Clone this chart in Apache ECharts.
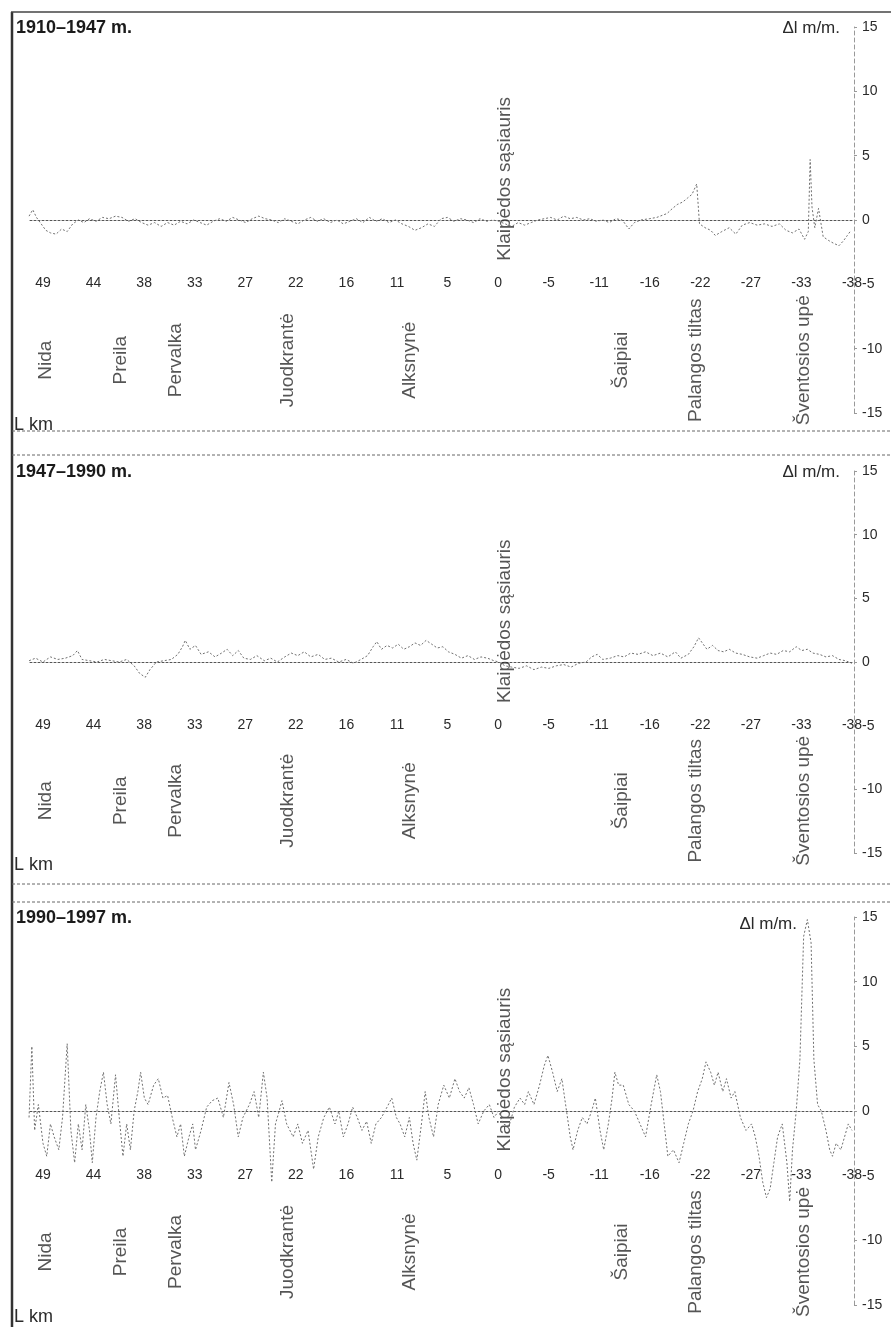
<!DOCTYPE html>
<html>
<head>
<meta charset="utf-8">
<script src="https://cdn.jsdelivr.net/npm/echarts@6/dist/echarts.min.js"></script>
<style>
  html, body { margin: 0; padding: 0; background: #fff; }
  #chart { width: 891px; height: 1327px; }
</style>
</head>
<body>
<div id="chart"></div>
<script>
// Coastline distance ticks (km from Klaipėda strait, north is negative)
const tickLabels = ['49', '44', '38', '33', '27', '22', '16', '11', '5', '0', '-5', '-11', '-16', '-22', '-27', '-33', '-38'];

// Place names along the coast and their km position
const placeNames = ['Nida', 'Preila', 'Pervalka', 'Juodkrantė', 'Alksnynė', 'Klaipėdos sąsiauris', 'Šaipiai', 'Palangos tiltas', 'Šventosios upė'];
const placeKm = [48.7, 40.6, 34.7, 22.7, 9.6, -0.7, -13.2, -21.2, -32.8];

const periods = ['1910–1947 m.', '1947–1990 m.', '1990–1997 m.'];

// 1910–1947: mean annual shoreline change, m/yr
const km1 = [50.5, 50.1, 49.7, 49.2, 48.7, 48.2, 47.6, 47.0, 46.4, 45.8, 45.2, 44.6, 44.0, 43.3, 42.6, 41.9, 41.2, 40.5, 39.8, 39.1,
  38.4, 37.7, 37.0, 36.3, 35.6, 34.9, 34.2, 33.5, 32.8, 32.1, 31.4, 30.7, 30.0, 29.3, 28.6, 27.9, 27.2, 26.5, 25.8, 25.1,
  24.4, 23.7, 23.0, 22.3, 21.6, 20.9, 20.2, 19.5, 18.8, 18.1, 17.4, 16.7, 16.0, 15.3, 14.6, 13.9, 13.2, 12.5, 11.8, 11.1,
  10.4, 9.7, 9.0, 8.3, 7.6, 6.9, 6.2, 5.5, 4.8, 4.1, 3.4, 2.7, 2.0, 1.3, 0.6, 0.0, -0.7, -1.4, -2.1, -2.8,
  -3.5, -4.2, -4.9, -5.6, -6.3, -7.0, -7.7, -8.4, -9.1, -9.8, -10.5, -11.2, -11.9, -12.6, -13.3, -14.0, -14.6, -15.3, -16.2, -17.0,
  -18.1, -18.7, -19.2, -19.8, -20.3, -20.8, -21.3, -21.6, -22.2, -22.8, -23.3, -24.0, -24.8, -25.5, -26.2, -27.0, -27.8, -28.6, -29.4, -30.2,
  -30.9, -31.6, -32.3, -32.9, -33.3, -33.5, -33.7, -34.0, -34.4, -34.9, -35.5, -36.0, -36.6, -37.1, -37.5, -37.9];
const dl1 = [0.3, 0.8, 0.2, -0.3, -0.8, -1.0, -1.1, -0.7, -0.9, -0.3, 0.0, -0.2, 0.1, -0.1, 0.2, 0.1, 0.3, 0.2, -0.1, 0.1,
  -0.2, -0.4, -0.2, -0.5, -0.2, -0.4, -0.1, -0.3, 0.0, -0.2, -0.4, -0.1, 0.1, -0.1, 0.2, 0.0, -0.2, 0.1, 0.3, 0.1,
  0.0, -0.2, 0.1, -0.1, -0.3, 0.0, 0.2, -0.1, 0.1, -0.2, 0.0, -0.3, -0.1, 0.1, -0.2, 0.2, -0.1, 0.1, -0.2, 0.0,
  -0.3, -0.5, -0.8, -0.6, -0.3, -0.5, 0.1, 0.2, -0.1, 0.1, 0.0, -0.2, 0.1, -0.1, 0.0, -0.1, -0.3, -0.5, -0.2, -0.4,
  -0.2, 0.0, 0.1, 0.2, 0.0, 0.3, 0.1, 0.2, 0.0, 0.1, -0.1, 0.0, -0.2, 0.1, 0.0, -0.7, -0.2, 0.0, 0.1, 0.2,
  0.5, 0.9, 1.2, 1.4, 1.7, 2.0, 2.8, -0.3, -0.6, -0.8, -1.2, -0.9, -0.6, -1.1, -0.4, -0.2, -0.4, -0.3, -0.5, -0.3,
  -0.8, -1.0, -0.7, -1.5, -0.9, 4.7, 1.0, -0.6, 0.9, -1.3, -1.6, -1.8, -2.0, -1.6, -1.2, -0.8];

// 1947–1990
const km2 = [50.5, 49.8, 49.0, 48.2, 47.4, 46.6, 45.8, 45.3, 44.8, 44.0, 43.2, 42.4, 41.6, 40.8, 40.0, 39.2, 38.6, 38.0, 37.5, 36.8,
  36.0, 35.2, 34.5, 34.0, 33.7, 33.2, 32.6, 32.0, 31.2, 30.5, 29.8, 29.2, 28.6, 28.0, 27.4, 26.7, 26.0, 25.2, 24.5, 23.8,
  23.0, 22.3, 21.6, 20.9, 20.2, 19.4, 18.7, 18.0, 17.2, 16.4, 15.6, 14.8, 14.1, 13.5, 13.1, 12.6, 12.0, 11.4, 10.8, 10.2,
  9.6, 9.0, 8.4, 7.8, 7.2, 6.6, 6.0, 5.4, 4.7, 4.0, 3.3, 2.6, 1.9, 1.2, 0.5, 0.0, -0.7, -1.4, -2.2, -3.0,
  -3.8, -4.6, -5.4, -6.2, -7.0, -7.8, -8.6, -9.4, -10.0, -10.6, -11.2, -12.0, -12.8, -13.5, -14.2, -15.0, -15.8, -16.6, -17.4, -18.2,
  -19.0, -19.6, -20.4, -21.0, -21.5, -21.9, -22.4, -23.0, -23.6, -24.2, -24.8, -25.5, -26.2, -27.0, -27.8, -28.5, -29.2, -29.9, -30.6, -31.3,
  -32.0, -32.6, -33.2, -33.8, -34.5, -35.2, -35.9, -36.6, -37.3, -38.0];
const dl2 = [0.1, 0.3, 0.0, 0.4, 0.2, 0.3, 0.5, 0.9, 0.2, 0.1, 0.0, 0.2, 0.1, 0.0, 0.2, -0.3, -0.9, -1.2, -0.6, 0.0,
  0.1, 0.2, 0.6, 1.2, 1.7, 1.0, 1.3, 0.6, 0.8, 0.4, 0.7, 1.0, 0.5, 0.9, 0.3, 0.2, 0.5, 0.1, 0.3, 0.0,
  0.4, 0.7, 0.5, 0.8, 0.4, 0.6, 0.2, 0.3, 0.0, 0.2, -0.1, 0.2, 0.5, 1.2, 1.6, 1.0, 1.3, 1.1, 1.4, 1.0,
  1.2, 1.5, 1.3, 1.7, 1.4, 1.1, 1.2, 0.8, 0.6, 0.3, 0.5, 0.2, 0.4, 0.3, 0.1, 0.0, -0.3, -0.4, -0.5, -0.3,
  -0.6, -0.4, -0.5, -0.3, -0.2, -0.4, -0.1, 0.0, 0.4, 0.6, 0.2, 0.3, 0.5, 0.4, 0.7, 0.6, 0.8, 0.5, 0.7, 0.4,
  0.8, 0.3, 0.6, 1.2, 1.9, 1.5, 1.0, 1.3, 0.9, 0.8, 1.0, 0.7, 0.6, 0.4, 0.3, 0.5, 0.7, 0.6, 0.9, 0.8,
  1.2, 0.9, 1.0, 0.7, 0.6, 0.4, 0.5, 0.2, 0.1, -0.1];

// 1990–1997
const km3 = [50.5, 50.2, 49.9, 49.5, 49.0, 48.6, 48.2, 47.8, 47.3, 46.9, 46.4, 46.0, 45.6, 45.2, 44.8, 44.4, 44.0, 43.7, 43.3, 42.9,
  42.5, 42.1, 41.7, 41.2, 40.8, 40.4, 40.0, 39.6, 39.2, 38.8, 38.5, 38.1, 37.7, 37.1, 36.6, 36.1, 35.6, 35.1, 34.6, 34.2,
  33.8, 33.3, 32.9, 32.6, 32.0, 31.4, 30.8, 30.2, 29.6, 29.0, 28.5, 28.0, 27.5, 26.8, 26.3, 25.8, 25.3, 24.9, 24.4, 24.0,
  23.6, 23.3, 22.8, 22.1, 21.6, 21.1, 20.5, 19.9, 19.4, 18.8, 18.2, 17.6, 17.2, 16.7, 16.2, 15.7, 15.2, 14.7, 14.2, 13.7,
  13.2, 12.6, 12.0, 11.5, 11.0, 10.6, 10.1, 9.6, 9.2, 8.8, 8.3, 7.9, 7.5, 7.0, 6.5, 5.9, 5.3, 4.7, 4.2, 3.7,
  3.2, 2.7, 2.2, 1.6, 1.0, 0.5, 0.0, -0.5, -1.1, -1.7, -2.3, -2.8, -3.2, -3.8, -4.4, -4.9, -5.3, -5.8, -6.3, -6.8,
  -7.3, -7.7, -8.0, -8.5, -9.0, -9.5, -10.0, -10.4, -10.9, -11.3, -11.8, -12.2, -12.5, -12.9, -13.4, -14.0, -14.6, -15.2, -15.8, -16.4,
  -17.0, -17.4, -17.8, -18.2, -18.8, -19.4, -19.9, -20.4, -20.9, -21.4, -21.9, -22.3, -22.8, -23.2, -23.6, -24.1, -24.5, -25.0, -25.4, -26.0,
  -26.6, -27.2, -27.6, -28.0, -28.4, -28.8, -29.2, -29.6, -30.0, -30.5, -31.0, -31.3, -31.6, -32.0, -32.4, -32.8, -33.2, -33.6, -33.9, -34.3,
  -34.7, -35.2, -35.6, -35.9, -36.3, -36.8, -37.2, -37.6, -38.0];
const dl3 = [-0.5, 5.0, -1.5, 0.5, -2.5, -3.5, -1.0, -2.0, -3.0, -0.5, 5.2, -1.5, -4.0, -1.0, -3.0, 0.5, -1.5, -4.0, -0.5, 1.5,
  3.0, 0.5, -1.0, 2.8, -0.5, -3.5, -1.0, -3.0, 0.0, 1.5, 3.0, 1.0, 0.5, 2.0, 2.5, 1.0, 1.2, -0.5, -2.0, -1.0,
  -3.5, -2.0, -1.0, -3.0, -1.5, 0.3, 0.8, 1.0, -0.5, 2.2, 0.5, -2.0, -0.5, 0.5, 1.5, -0.5, 3.0, 1.0, -5.5, -1.0,
  0.0, 0.8, -1.0, -2.0, -1.0, -2.5, -1.5, -4.5, -2.0, -0.5, 0.3, -1.0, 0.0, -2.0, -1.0, 0.3, -0.5, -1.5, -0.8, -2.5,
  -1.0, -0.5, 0.3, 1.0, -0.5, -1.0, -2.0, -0.5, -2.5, -3.8, -1.0, 1.5, -0.5, -2.0, 0.5, 2.0, 1.0, 2.5, 1.5, 1.0,
  1.8, 0.5, -1.0, 0.0, 0.5, -0.5, 0.0, -1.0, -1.2, 0.3, 1.0, 0.5, 1.5, 0.5, 2.0, 3.5, 4.3, 3.0, 1.5, 2.5,
  0.0, -2.0, -3.0, -1.5, -0.5, -1.0, 0.0, 1.0, -1.5, -3.0, -1.0, 1.0, 3.0, 2.0, 2.0, 0.5, 0.0, -1.0, -2.0, 0.5,
  2.8, 1.5, -1.0, -3.5, -3.0, -4.0, -2.5, -1.0, 0.0, 1.5, 2.5, 3.8, 3.0, 2.0, 3.0, 1.5, 2.5, 1.0, 1.5, -0.5,
  -1.5, -1.0, -2.0, -3.5, -5.5, -6.7, -6.0, -4.0, -2.0, -1.0, -4.0, -7.0, -3.0, 0.0, 4.0, 13.5, 14.8, 13.0, 4.0, 0.5,
  0.0, -1.5, -3.0, -3.5, -2.5, -3.0, -2.0, -1.0, -1.5];

const kmSets = [km1, km2, km3];
const dlSets = [dl1, dl2, dl3];

// vertical level (m/yr) on which the place names are centred
const NAME_LEVEL = -10.9;
const STRAIT_LEVEL = 3.2;

const FONT = "'Liberation Sans', Arial, sans-serif";
const INK = '#2a2a2a';

// panel frames (pixels); tick labels run from km 49 (LEFT) to km -38 (LEFT+WIDTH)
const panels = [
  { top: 27, height: 386 },
  { top: 471, height: 382 },
  { top: 917, height: 388 }
];
const LEFT = 43, WIDTH = 809;
const KM_MIN = -38, KM_TICK_MAX = 49, KM_MAX = 50.5;   // the survey starts a little before km 49
const PX_PER_KM = WIDTH / (KM_TICK_MAX - KM_MIN);
const DATA_LEFT = LEFT - (KM_MAX - KM_TICK_MAX) * PX_PER_KM;
const DATA_WIDTH = WIDTH + (KM_MAX - KM_TICK_MAX) * PX_PER_KM;

const chart = echarts.init(document.getElementById('chart'), null, { renderer: 'canvas' });

const grid = [], xAxis = [], yAxis = [], series = [], graphic = [];

panels.forEach((p, i) => {
  // data grid (index i) and tick-label grid (index i + 3)
  grid.push({ left: DATA_LEFT, top: p.top, width: DATA_WIDTH, height: p.height });

  // km axis carrying the data and the dotted zero line
  xAxis.push({
    type: 'value', gridIndex: i, min: KM_MIN, max: KM_MAX, inverse: true,
    axisLine: { show: true, onZero: true, lineStyle: { color: '#555', width: 1, type: [2, 2] } },
    axisTick: { show: false }, axisLabel: { show: false }, splitLine: { show: false }
  });
  yAxis.push({
    type: 'value', gridIndex: i, position: 'right', min: -15, max: 15, interval: 5, offset: 2,
    axisLine: { show: true, onZero: false, lineStyle: { color: '#999', width: 1, type: [4, 3] } },
    axisTick: { show: true, length: 3, lineStyle: { color: '#999' } },
    splitLine: { show: false },
    axisLabel: { show: true, margin: 8, color: INK, fontFamily: FONT, fontSize: 14, align: 'left' }
  });

  series.push({
    type: 'line', xAxisIndex: i, yAxisIndex: i,
    data: kmSets[i].map((k, j) => [k, dlSets[i][j]]),
    showSymbol: false, smooth: false, silent: true,
    lineStyle: { color: '#707070', width: 1, type: [2, 2] }
  });

  series.push({
    type: 'scatter', xAxisIndex: i, yAxisIndex: i, symbolSize: 0, silent: true,
    data: placeNames.map((n, j) => ({ name: n, value: [placeKm[j], j === 5 ? STRAIT_LEVEL : NAME_LEVEL] })),
    label: {
      show: true, position: 'inside', rotate: 90, formatter: '{b}',
      color: INK, fontFamily: FONT, fontSize: 19, align: 'center', verticalAlign: 'middle'
    }
  });

  // period heading, axis names
  graphic.push({ type: 'text', left: 16, top: p.top - 8,
    style: { text: periods[i], font: `bold 18px ${FONT}`, fill: '#1a1a1a' } });
  graphic.push({ type: 'text', right: 891 - (i === 2 ? 797 : 840), top: p.top - 7 + (i === 2 ? 6 : 0),
    style: { text: 'Δl m/m.', font: `17px ${FONT}`, fill: INK } });
  graphic.push({ type: 'text', left: 14, top: p.top + p.height + 3,
    style: { text: 'L km', font: `18px ${FONT}`, fill: INK } });
});

panels.forEach((p, i) => {
  // evenly spaced kilometre labels, drawn on the -5 level
  grid.push({ left: LEFT, top: p.top, width: WIDTH, height: p.height });
  xAxis.push({
    type: 'category', gridIndex: i + 3, data: tickLabels, boundaryGap: false, position: 'bottom',
    offset: -p.height / 3 - 8,
    axisLine: { show: false, onZero: false }, axisTick: { show: false }, splitLine: { show: false },
    axisLabel: { show: true, interval: 0, margin: 0, color: INK, fontFamily: FONT, fontSize: 14 }
  });
  yAxis.push({ type: 'value', gridIndex: i + 3, show: false });
});

// frame: left border, top rule, dashed panel separators
graphic.push({ type: 'line', shape: { x1: 12, y1: 12, x2: 12, y2: 1327 }, style: { stroke: '#333', lineWidth: 2.5 } });
graphic.push({ type: 'line', shape: { x1: 11, y1: 12, x2: 891, y2: 12 }, style: { stroke: '#444', lineWidth: 1.5 } });
[431, 455, 884, 902].forEach(y => {
  graphic.push({ type: 'line', shape: { x1: 12, y1: y, x2: 891, y2: y }, style: { stroke: '#666', lineWidth: 1, lineDash: [3, 2] } });
});

chart.setOption({
  animation: false,
  backgroundColor: '#fff',
  grid, xAxis, yAxis, series, graphic
});
</script>
</body>
</html>
